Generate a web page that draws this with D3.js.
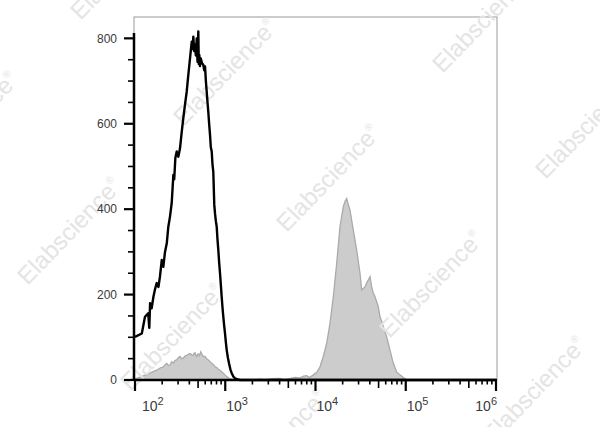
<!DOCTYPE html>
<html><head><meta charset="utf-8">
<script src="https://cdn.jsdelivr.net/npm/d3@7"></script>
<style>body{margin:0;background:#fff}svg{display:block}</style>
</head><body><svg id="c" width="600" height="427"></svg>
<script>
// Unstained / isotype control (black line): fluorescence intensity and event count
const blackX = [100,119,129,140,144,147,153,160,166,174,182,189,198,206,215,225,234,244,255,266,272,280,290,302,315,329,343,358,374,390,407,425,435,443,452,462,472,483,493,503,509,516,525,535,552,571,585,597,610,623,636,649,663,678,692,708,722,737,756,770,787,804,820,838,856,875,894,913,932,952,972,994,1016,1038,1070,1101,1140,1179,1230,1282,1350,1457,1000000];
const blackY = [101,109,148,156,122,180,168,195,211,227,218,242,281,265,300,320,359,382,414,480,470,520,535,523,542,580,613,645,675,715,753,792,775,804,770,785,760,800,745,816,740,761,735,753,742,738,725,734,700,675,650,628,600,574,545,535,505,488,410,390,372,359,330,304,275,250,222,195,170,148,128,109,88,70,52,39,25,16,8,4,2,0,0];
// Stained sample (grey filled histogram)
const grayX = [100,104,118,132,147,160,174,189,206,216,225,234,244,255,266,279,290,302,315,329,343,358,374,390,407,425,443,452,462,472,483,493,503,520,535,552,571,597,623,649,678,708,737,770,804,838,875,913,952,994,1038,1101,1180,1282,1600,2000,2427,2800,3300,4043,4500,5218,5929,6735,7400,7988,8600,9454,10311,11216,12204,13310,14478,15747,17175,18684,20324,21200,22162,23000,24112,26227,28609,31126,32505,35360,37000,38459,40165,41944,43500,45624,49623,51829,54000,56380,61497,66914,72779,79379,86357,93958,102450,1000000];
const grayY = [3,4,8,12,16,20,23,28,31,36,39,34,35,43,40,46,47,52,55,50,51,56,58,60,62,59,58,63,64,58,55,60,61,57,66,60,55,55,50,47,43,39,36,31,29,25,23,19,16,12,8,4,2,0,1,0,2,0,3,4,1,3,6,5,9,10,6,12,18,31,55,86,133,195,273,359,406,418,425,412,398,351,304,250,211,218,228,234,242,218,205,195,172,148,138,125,101,70,39,19,12,6,0,0];
const yTicks = [0,200,400,600,800];
const xDecades = [2,3,4,5,6];
const watermarkText = "Elabscience";

const svg = d3.select("#c");
const x = d3.scaleLog().domain([100, 1e6]).range([135, 496]);
const y = d3.scaleLinear().domain([0, 850]).range([380, 17]);

const black = blackX.map((v,i)=>[v, blackY[i]]);
const gray = grayX.map((v,i)=>[v, grayY[i]]);

// frame
svg.append("rect").attr("x",134).attr("y",17).attr("width",363).attr("height",363)
  .attr("fill","none").attr("stroke","#9a9a9a").attr("stroke-width",1);

// grey histogram
svg.append("path").datum(gray)
  .attr("d", d3.area().x(d=>x(d[0])).y0(y(0)).y1(d=>y(d[1])))
  .attr("fill","#cccccc").attr("stroke","#aaaaaa").attr("stroke-width",1.3);

// watermarks
const wm = svg.append("g");
const o=[328,178], a=[103,106], b=[259,-53];
for(let i=-4;i<=4;i++)for(let j=-4;j<=4;j++){
  const cx=o[0]+i*a[0]+j*b[0], cy=o[1]+i*a[1]+j*b[1];
  if(cx<-120||cx>720||cy<-120||cy>550) continue;
  const t = wm.append("text").attr("transform",`translate(${cx},${cy}) rotate(-46)`)
    .attr("text-anchor","middle").attr("dy","0.35em")
    .attr("font-family","Liberation Sans, Arial, sans-serif").attr("font-size",24)
    .attr("fill","#e4e4e4");
  t.append("tspan").text(watermarkText);
  t.append("tspan").attr("font-size",10).attr("dy",-11).text("®");
}

// black line
svg.append("path").datum(black)
  .attr("d", d3.line().x(d=>x(d[0])).y(d=>y(d[1])))
  .attr("fill","none").attr("stroke","#000").attr("stroke-width",2.4).attr("stroke-linejoin","round");

// y axis
const ya = svg.append("g");
ya.append("line").attr("x1",134).attr("x2",134).attr("y1",y(0)+1).attr("y2",33).attr("stroke","#000").attr("stroke-width",2.5);
d3.range(0, 850, 50).forEach(v=>{
  const major = v % 200 === 0;
  ya.append("line").attr("x1", major?124:128).attr("x2",134).attr("y1",y(v)).attr("y2",y(v))
    .attr("stroke","#000").attr("stroke-width", major?2.2:1.6);
});
yTicks.forEach(v=>{
  ya.append("text").attr("x",117).attr("y",y(v)).attr("dy","0.35em").attr("text-anchor","end")
    .attr("font-family","Liberation Sans, Arial, sans-serif").attr("font-size",12).attr("fill","#3a3a3a").text(v);
});

// x axis
const xa = svg.append("g");
xa.append("line").attr("x1",134).attr("x2",497).attr("y1",380).attr("y2",380).attr("stroke","#000").attr("stroke-width",2.5);
xDecades.forEach((e,k)=>{
  const base = Math.pow(10,e);
  xa.append("line").attr("x1",x(base)).attr("x2",x(base)).attr("y1",380).attr("y2",391).attr("stroke","#000").attr("stroke-width",2.2);
  if(e<6){
    for(let m=2;m<=9;m++){
      const px = x(base*m);
      xa.append("line").attr("x1",px).attr("x2",px).attr("y1",380).attr("y2", m===5?388:384.5)
        .attr("stroke","#000").attr("stroke-width",1.6);
    }
  }
  const last = k===xDecades.length-1;
  const off = k===0?7:1;
  const t = xa.append("text").attr("x", last? x(base)+1 : x(base)+off).attr("y",411)
    .attr("text-anchor", last?"end":"start")
    .attr("font-family","Liberation Sans, Arial, sans-serif").attr("font-size",14).attr("fill","#3a3a3a");
  t.append("tspan").text("10");
  t.append("tspan").attr("font-size",11).attr("dy",-6).text(e);
});
</script></body></html>
